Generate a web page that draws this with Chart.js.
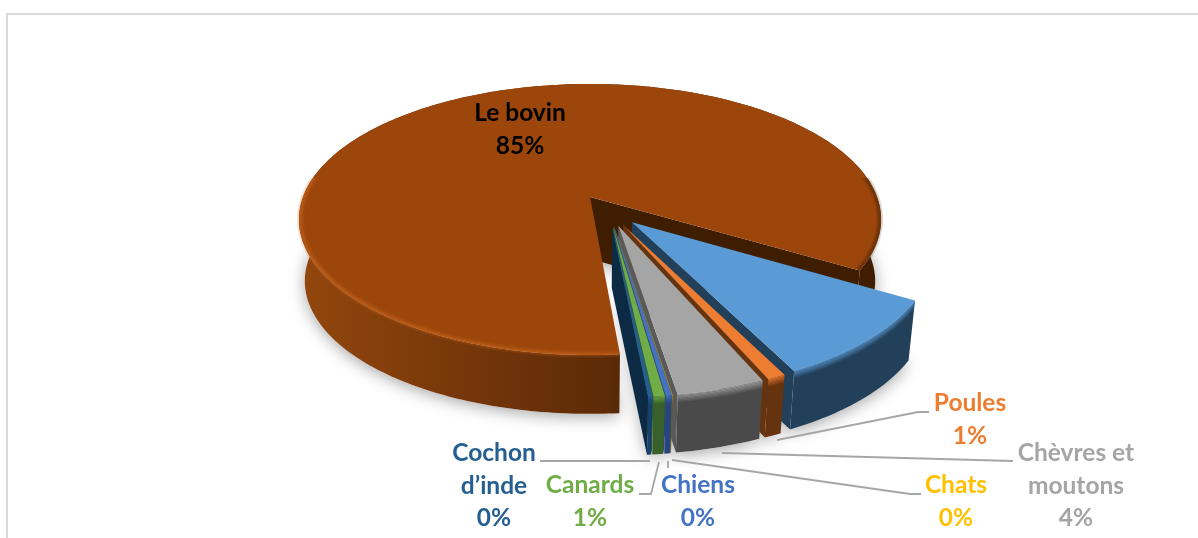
<!DOCTYPE html>
<html>
<head>
<meta charset="utf-8">
<title>Répartition</title>
<script src="https://cdn.jsdelivr.net/npm/chart.js@4"></script>
<style>
    html, body { margin: 0; padding: 0; background: #fff; }
    #wrap { position: relative; width: 1198px; height: 538px; overflow: hidden; }
    #frame { position: absolute; left: 6px; top: 13px; right: -4px; bottom: -4px; border-top: 2px solid #d9d9d9; border-left: 2px solid #d9d9d9; }
    canvas { position: absolute; left: 0; top: 0; }
</style>
</head>
<body>
<div id="wrap">
    <div id="frame"></div>
    <canvas id="pieChart" width="1198" height="538"></canvas>
</div>
<script>
// Data (the blue slice carries no label in the reference)
const categories = ['Le bovin', '', 'Poules', 'Chèvres et moutons', 'Chats', 'Chiens', 'Canards', 'Cochon d’inde'];
const shares = [84.9, 9.2, 0.85, 4.05, 0.02, 0.27, 0.51, 0.2];

// Slice colours
const faceColors = ['#9c460c', '#5b9bd5', '#ed7d31', '#a5a5a5', '#ffc000', '#4472c4', '#70ad47', '#255e91'];
const wallColors = ['#5a2a07', '#23405a', '#66330f', '#4a4a4a', '#7f6000', '#27467f', '#38602a', '#17406a'];
const edgeColors = ['#3f1d00', '#23405a', '#66330f', '#595959', '#7f6000', '#27467f', '#38602a', '#0d2a45'];
const sliceOffsets = [0, 100, 100, 100, 100, 100, 100, 100];

// Label boxes: which slice, centre x, baseline of first line, line wrap, colour
const labelLayout = [
    { slice: 0, x: 520, y: 121, lines: ['Le bovin'], color: '#000000' },
    { slice: 2, x: 970, y: 411, lines: ['Poules'], color: '#ed7d31' },
    { slice: 3, x: 1076, y: 461, lines: ['Chèvres et', 'moutons'], color: '#a5a5a5' },
    { slice: 4, x: 956, y: 493, lines: ['Chats'], color: '#ffc000' },
    { slice: 5, x: 698, y: 493, lines: ['Chiens'], color: '#4472c4' },
    { slice: 6, x: 590, y: 493, lines: ['Canards'], color: '#70ad47' },
    { slice: 7, x: 494, y: 461, lines: ['Cochon', 'd’inde'], color: '#255e91' }
];
const leaderLines = [
    [[777, 440], [918, 412], [929, 412]],
    [[722, 453], [1013, 461]],
    [[672, 460], [910, 494], [921, 494]],
    [[668, 461], [668, 468]],
    [[659, 462], [651, 494], [639, 494]],
    [[650, 461], [540, 461]]
];

// Fake 3D view of the pie plane
const view = { x: 590, y: 197, scaleX: 287, scaleY: 131.8, persp: 0.166, depth: 62, shrink: 0.02, groupShift: 0.12 };

function project(u, v, z) {
    const w = 1 - view.persp * v;
    const s = 1 - view.shrink * z;
    return [view.x + view.scaleX * s * u / w, view.y + view.depth * z + view.scaleY * s * v / w];
}

function tracePoly(ctx, pts) {
    ctx.beginPath();
    pts.forEach((p, i) => i ? ctx.lineTo(p[0], p[1]) : ctx.moveTo(p[0], p[1]));
}

function fillPoly(ctx, pts, fill) {
    tracePoly(ctx, pts);
    ctx.closePath();
    ctx.fillStyle = fill;
    ctx.fill();
}

const pie3d = {
    id: 'pie3d',
    beforeDatasetDraw(chart) {
        const ctx = chart.ctx;
        const arcs = chart.getDatasetMeta(0).data;
        const exploded = arcs.filter(a => a.options.offset > 0);
        const groupMid = (exploded[0].startAngle + exploded[exploded.length - 1].endAngle) / 2;

        // Turn the library's arcs into slices in the unit plane
        const slices = arcs.map((arc, i) => {
            const mid = (arc.startAngle + arc.endAngle) / 2;
            const own = arc.options.offset / 4 / arc.outerRadius;
            const group = arc.options.offset > 0 ? view.groupShift : 0;
            return {
                i,
                start: arc.startAngle,
                end: arc.endAngle,
                cu: Math.cos(mid) * own + Math.cos(groupMid) * group,
                cv: Math.sin(mid) * own + Math.sin(groupMid) * group
            };
        });

        const rim = (s, z, r) => {
            const n = Math.max(2, Math.ceil((s.end - s.start) * 60));
            const pts = [];
            for (let k = 0; k <= n; k++) {
                const a = s.start + (s.end - s.start) * k / n;
                pts.push(project(s.cu + r * Math.cos(a), s.cv + r * Math.sin(a), z));
            }
            return pts;
        };

        // Soft shadow under everything
        ctx.save();
        ctx.shadowColor = 'rgba(0,0,0,0.35)';
        ctx.shadowBlur = 16;
        ctx.shadowOffsetY = 3;
        slices.forEach(s => {
            fillPoly(ctx, [project(s.cu, s.cv, 1)].concat(rim(s, 1, 1)), '#fff');
        });
        ctx.restore();

        slices.forEach(s => {
            const apexTop = project(s.cu, s.cv, 0);
            const apexBottom = project(s.cu, s.cv, 1);
            const top = rim(s, 0, 1);
            const bottom = rim(s, 1, 1);

            // Side wall along the closing edge
            fillPoly(ctx, [apexTop, top[top.length - 1], bottom[bottom.length - 1], apexBottom], edgeColors[s.i]);

            // Outer wall
            let wallFill = wallColors[s.i];
            if (s.i === 0) {
                wallFill = ctx.createLinearGradient(298, 0, 880, 0);
                wallFill.addColorStop(0, '#93470d');
                wallFill.addColorStop(0.3, '#75360a');
                wallFill.addColorStop(0.55, '#5a2a07');
                wallFill.addColorStop(1, '#3f1d00');
            }
            fillPoly(ctx, top.concat(bottom.slice().reverse()), wallFill);

            // Soft bevel from the face into the wall (the big slice gets its own below)
            if (s.i !== 0) {
                const steps = 6;
                const bevel = 0.13;
                for (let k = 0; k < steps; k++) {
                    ctx.globalAlpha = 0.8 * (1 - k / steps);
                    fillPoly(ctx, rim(s, bevel * k / steps, 1).concat(rim(s, bevel * (k + 1) / steps, 1).reverse()), faceColors[s.i]);
                }
                ctx.globalAlpha = 1;
            }

            // Top face
            fillPoly(ctx, [apexTop].concat(top), arcs[s.i].options.backgroundColor);

            // Rounded edge of the big slice: lit on the left, dark on the right
            if (s.i === 0) {
                const edge = ctx.createLinearGradient(298, 0, 880, 0);
                edge.addColorStop(0, '#c8631a');
                edge.addColorStop(0.5, '#c8631a');
                edge.addColorStop(0.7, '#9c460c');
                edge.addColorStop(0.88, '#9c460c');
                edge.addColorStop(0.96, '#4a2204');
                edge.addColorStop(1, '#4a2204');
                ctx.save();
                ctx.beginPath();
                ctx.rect(0, 178, 1198, 360);
                ctx.clip();
                ctx.strokeStyle = edge;
                [[7, 0.16, 0.995], [4, 0.22, 0.995], [2, 0.3, 0.995]].forEach(pass => {
                    ctx.lineWidth = pass[0];
                    ctx.globalAlpha = pass[1];
                    tracePoly(ctx, rim(s, 0, pass[2]));
                    ctx.stroke();
                });
                ctx.restore();
            }
        });
        return false;
    },
    afterDraw(chart) {
        const ctx = chart.ctx;
        const total = shares.reduce((a, b) => a + b, 0);

        ctx.save();
        ctx.strokeStyle = '#a6a6a6';
        ctx.lineWidth = 1.8;
        leaderLines.forEach(line => {
            tracePoly(ctx, line);
            ctx.stroke();
        });

        ctx.font = 'bold 24.5px Lato, "Open Sans", sans-serif';
        ctx.textAlign = 'center';
        labelLayout.forEach(label => {
            ctx.fillStyle = label.color;
            const pct = Math.round(shares[label.slice] / total * 100) + '%';
            label.lines.concat([pct]).forEach((text, i) => {
                ctx.fillText(text, label.x, label.y + i * 32.5);
            });
        });
        ctx.restore();
    }
};

new Chart(document.getElementById('pieChart'), {
    type: 'pie',
    data: {
        labels: categories,
        datasets: [{
            data: shares,
            backgroundColor: faceColors,
            borderWidth: 0,
            offset: sliceOffsets
        }]
    },
    options: {
        responsive: false,
        animation: false,
        rotation: 175,
        layout: { padding: 0 },
        plugins: {
            legend: { display: false },
            tooltip: { enabled: false }
        }
    },
    plugins: [pie3d]
});
</script>
</body>
</html>
